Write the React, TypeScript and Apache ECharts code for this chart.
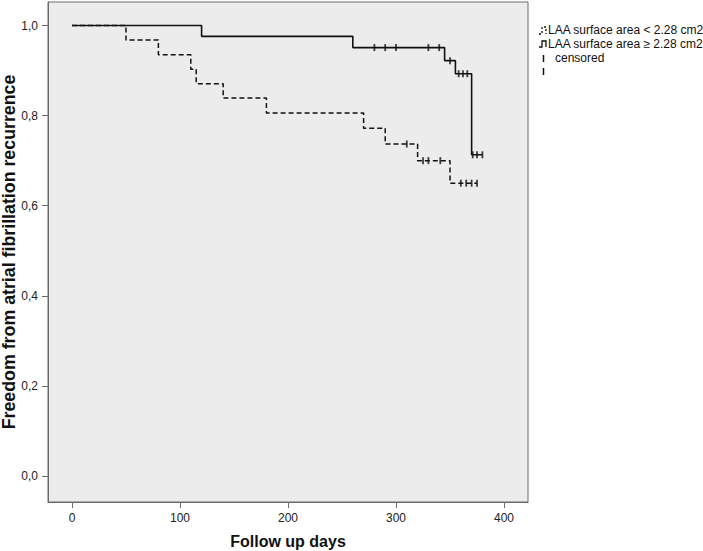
import React, { useEffect, useRef } from "react";
import * as echarts from "echarts";

// Group: LAA surface area < 2.28 cm2 (dashed)
const lowTimes = [0, 50, 80, 110, 115, 140, 180, 270, 290, 320, 350, 375];
const lowSurv = [1.0, 0.968, 0.935, 0.903, 0.871, 0.839, 0.806, 0.772, 0.737, 0.7, 0.65, 0.65];
const lowCensorTimes = [310, 325, 330, 341, 360, 365, 370, 375];
const lowCensorSurv = [0.737, 0.7, 0.7, 0.7, 0.65, 0.65, 0.65, 0.65];

// Group: LAA surface area >= 2.28 cm2 (solid)
const highTimes = [0, 120, 260, 345, 355, 370, 380];
const highSurv = [1.0, 0.976, 0.951, 0.922, 0.893, 0.713, 0.713];
const highCensorTimes = [280, 290, 300, 330, 340, 350, 358, 362, 366, 371, 375, 380];
const highCensorSurv = [0.951, 0.951, 0.951, 0.951, 0.951, 0.922, 0.893, 0.893, 0.893, 0.713, 0.713, 0.713];

const xTicks = [0, 100, 200, 300, 400];
const yTicks = [0, 0.2, 0.4, 0.6, 0.8, 1.0];

const legendLabels = ["LAA surface area < 2.28 cm2", "LAA surface area \u2265 2.28 cm2", "censored"];

const FONT = "'Liberation Sans', Arial, sans-serif";

const zip = (a: number[], b: number[]) => a.map((v, i) => [v, b[i]]);

export default function App() {
  const ref = useRef<HTMLDivElement>(null);
  useEffect(() => {
    if (!ref.current) return;
    const chart = echarts.init(ref.current, null, { renderer: "svg" });
    const lineColor = "#111";
    const axisColor = "#6a6a6a";
    chart.setOption({
      animation: false,
      backgroundColor: "#ffffff",
      grid: {
        left: 48,
        top: 2,
        width: 480,
        height: 500,
        containLabel: false,
        outerBoundsMode: "none",
        show: true,
        backgroundColor: "#ececec",
        borderColor: axisColor,
        borderWidth: 1,
      },
      xAxis: {
        type: "value",
        min: -22.2,
        max: 422.2,
        name: "Follow up days",
        nameLocation: "middle",
        nameGap: 31,
        nameMoveOverlap: false,
        nameTextStyle: { fontFamily: FONT, fontWeight: "bold", fontSize: 16, color: "#111" },
        axisLine: { show: true, onZero: false, lineStyle: { color: axisColor } },
        axisTick: { show: true, length: 6, customValues: xTicks, lineStyle: { color: axisColor } },
        axisLabel: {
          customValues: xTicks,
          margin: 10,
          fontFamily: FONT,
          fontSize: 12,
          color: "#222",
        },
        splitLine: { show: false },
      },
      yAxis: {
        type: "value",
        min: -0.0577,
        max: 1.0522,
        name: "Freedom from atrial fibrillation recurrence",
        nameLocation: "middle",
        nameGap: 30,
        nameMoveOverlap: false,
        nameTextStyle: { fontFamily: FONT, fontWeight: "bold", fontSize: 17.8, color: "#111" },
        axisLine: { show: true, onZero: false, lineStyle: { color: axisColor } },
        axisTick: { show: true, length: 6, customValues: yTicks, lineStyle: { color: axisColor } },
        axisLabel: {
          customValues: yTicks,
          margin: 10,
          fontFamily: FONT,
          fontSize: 12,
          color: "#222",
          formatter: (v: number) => v.toFixed(1).replace(".", ","),
        },
        splitLine: { show: false },
      },
      series: [
        {
          type: "line",
          step: "end",
          symbol: "none",
          data: zip(lowTimes, lowSurv),
          lineStyle: { color: lineColor, width: 1.5, type: [5, 3] },
        },
        {
          type: "line",
          step: "end",
          symbol: "none",
          data: zip(highTimes, highSurv),
          lineStyle: { color: lineColor, width: 1.6 },
        },
        {
          type: "scatter",
          symbol: "rect",
          symbolSize: [1.8, 7],
          itemStyle: { color: lineColor },
          data: zip(lowCensorTimes, lowCensorSurv),
        },
        {
          type: "scatter",
          symbol: "rect",
          symbolSize: [1.8, 7],
          itemStyle: { color: lineColor },
          data: zip(highCensorTimes, highCensorSurv),
        },
      ],
      graphic: [
        {
          type: "polyline",
          shape: { points: [[539, 34], [542, 34], [542, 27], [546, 27], [546, 34]] },
          style: { stroke: lineColor, lineWidth: 1.3, fill: null, lineDash: [2, 2] },
        },
        {
          type: "text",
          x: 548,
          y: 30,
          style: { text: legendLabels[0], fontFamily: FONT, fontSize: 12, fill: "#111", verticalAlign: "middle" },
        },
        {
          type: "polyline",
          shape: { points: [[539, 47], [542, 47], [542, 41], [546, 41], [546, 47]] },
          style: { stroke: lineColor, lineWidth: 1.3, fill: null },
        },
        {
          type: "text",
          x: 548,
          y: 44,
          style: { text: legendLabels[1], fontFamily: FONT, fontSize: 12, fill: "#111", verticalAlign: "middle" },
        },
        {
          type: "line",
          shape: { x1: 543.5, y1: 55, x2: 543.5, y2: 62 },
          style: { stroke: lineColor, lineWidth: 1.5 },
        },
        {
          type: "text",
          x: 555,
          y: 58,
          style: { text: legendLabels[2], fontFamily: FONT, fontSize: 12, fill: "#111", verticalAlign: "middle" },
        },
        {
          type: "line",
          shape: { x1: 543.5, y1: 68, x2: 543.5, y2: 75 },
          style: { stroke: lineColor, lineWidth: 1.5 },
        },
      ],
    });
    return () => chart.dispose();
  }, []);
  return (
    <div
      ref={ref}
      style={{ position: "fixed", left: 0, top: 0, width: 703, height: 551 }}
    />
  );
}
